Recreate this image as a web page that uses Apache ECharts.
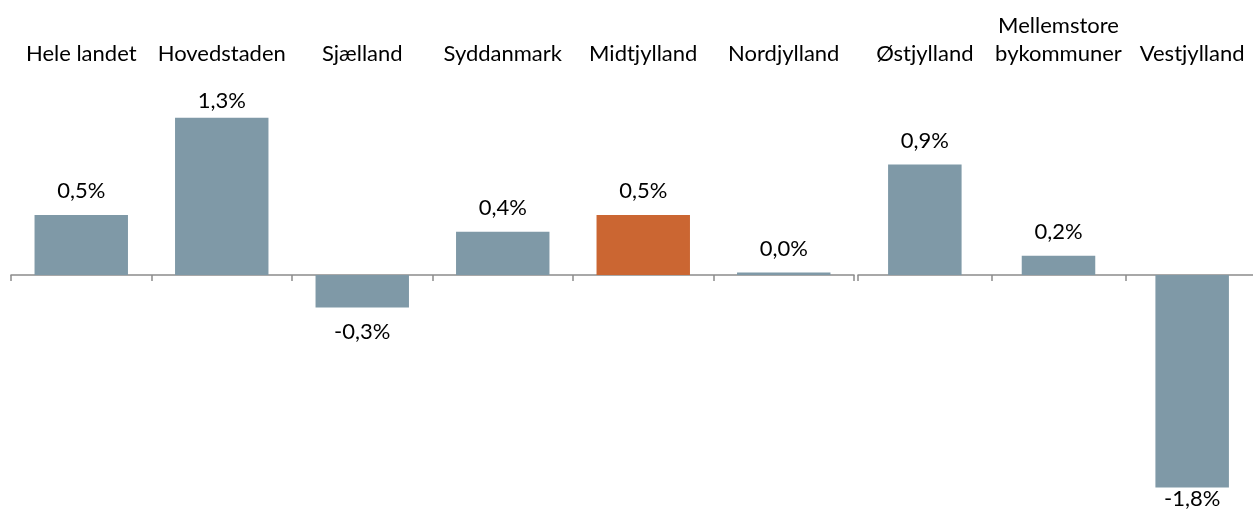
<!DOCTYPE html>
<html>
<head>
<meta charset="utf-8">
<title>Regioner</title>
<script src="https://cdn.jsdelivr.net/npm/echarts@6/dist/echarts.min.js"></script>
<style>
	html, body { margin: 0; padding: 0; background: #fff; overflow: hidden; }
	/* the right axis runs a few pixels past the frame in the original */
	#chart { width: 1262px; height: 510px; }
</style>
</head>
<body>
<div id="chart"></div>
<script>
// data (percent)
var leftCategories = ['Hele landet', 'Hovedstaden', 'Sjælland', 'Syddanmark', 'Midtjylland', 'Nordjylland'];
var leftValues = [0.50, 1.31, -0.27, 0.36, 0.50, 0.02];
var rightCategories = ['Østjylland', 'Mellemstore\nbykommuner', 'Vestjylland'];
var rightValues = [0.92, 0.16, -1.77];
var highlighted = 'Midtjylland';

var FONT = 'Lato';
var BLUE = '#7f99a7';
var ORANGE = '#cb6632';
// label distances that were moved by hand in the original
var labelNudge = { 'Hovedstaden': 3, 'Vestjylland': -2 };

function fmt(v) {
	return v.toFixed(1).replace('.', ',') + '%';
}

function buildData(cats, vals) {
	return vals.map(function (v, i) {
		var d = labelNudge[cats[i]];
		return {
			value: v,
			itemStyle: { color: cats[i] === highlighted ? ORANGE : BLUE },
			label: {
				position: v < 0 ? 'bottom' : 'top',
				distance: d !== undefined ? d : (v < 0 ? 11 : 10)
			}
		};
	});
}

function bottomAxis(idx, cats) {
	return {
		type: 'category', gridIndex: idx, data: cats, position: 'bottom',
		axisLine: { onZero: true, lineStyle: { color: '#8c8c8c', width: 1.5 } },
		axisTick: { show: true, length: 6, lineStyle: { color: '#8c8c8c', width: 1.5 } },
		axisLabel: { show: false },
		splitLine: { show: false }
	};
}

function topAxis(idx, cats) {
	return {
		type: 'category', gridIndex: idx, data: cats, position: 'top',
		axisLine: { show: false }, axisTick: { show: false },
		axisLabel: {
			interval: 0, margin: 15, color: '#000', fontFamily: FONT, fontSize: 22,
			lineHeight: 28, verticalAlign: 'bottom'
		}
	};
}

function valAxis(idx) {
	return { type: 'value', gridIndex: idx, min: -1.9, max: 1.6, show: false, splitLine: { show: false } };
}

var chart = echarts.init(document.getElementById('chart'));

chart.setOption({
	animation: false,
	grid: [
		{ left: 11, width: 843, top: 83, bottom: 7 },
		{ left: 858, width: 401, top: 83, bottom: 7 }
	],
	xAxis: [
		bottomAxis(0, leftCategories), topAxis(0, leftCategories),
		bottomAxis(1, rightCategories), topAxis(1, rightCategories)
	],
	yAxis: [valAxis(0), valAxis(1)],
	series: [
		{
			type: 'bar', xAxisIndex: 0, yAxisIndex: 0, barWidth: '66.5%',
			data: buildData(leftCategories, leftValues),
			label: {
				show: true, color: '#000', fontFamily: FONT, fontSize: 22, lineHeight: 28,
				formatter: function (p) { return fmt(p.value); }
			}
		},
		{
			type: 'bar', xAxisIndex: 2, yAxisIndex: 1, barWidth: '55%',
			data: buildData(rightCategories, rightValues),
			label: {
				show: true, color: '#000', fontFamily: FONT, fontSize: 22, lineHeight: 28,
				formatter: function (p) { return fmt(p.value); }
			}
		}
	]
});
</script>
</body>
</html>
